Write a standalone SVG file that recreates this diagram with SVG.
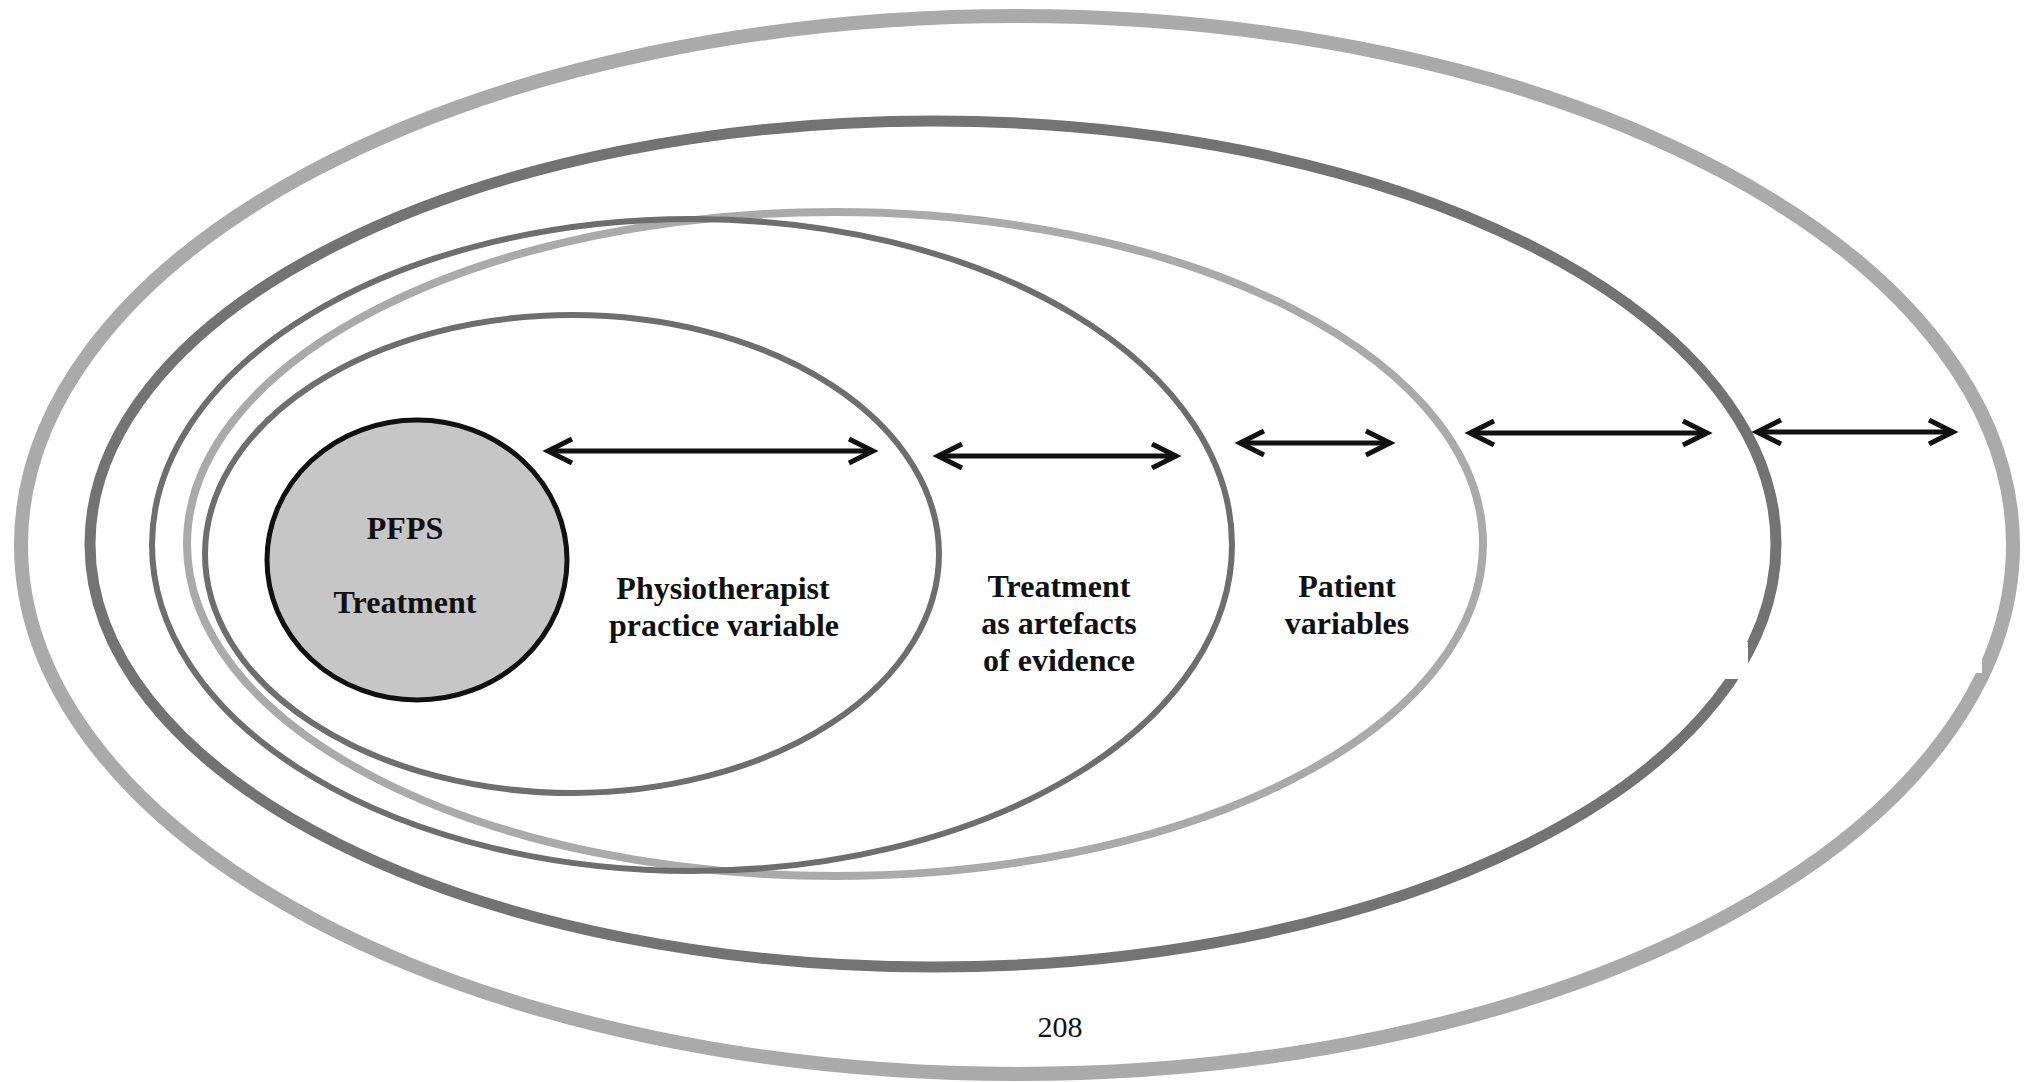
<svg xmlns="http://www.w3.org/2000/svg" width="2032" height="1082" viewBox="0 0 2032 1082">
  <style>
    .ring { fill: none; }
    .light { stroke: #aaaaaa; }
    .dark { stroke: #6e6e6e; }
    .label { font-family: "Liberation Serif", "Times New Roman", serif; font-weight: bold; font-size: 32px; fill: #111; text-anchor: middle; }
    .page { font-family: "Liberation Serif", "Times New Roman", serif; font-size: 30px; fill: #111; text-anchor: middle; }
    .arrow { stroke: #111; stroke-width: 5; fill: none; marker-start: url(#chev); marker-end: url(#chev); }
  </style>
  <defs>
    <marker id="chev" markerUnits="userSpaceOnUse" markerWidth="40" markerHeight="40" refX="0" refY="0" orient="auto-start-reverse" overflow="visible">
      <path d="M-24,-12 L0,0 L-24,12" fill="none" stroke="#111" stroke-width="5" stroke-linejoin="miter"/>
    </marker>
  </defs>

  <rect x="0" y="0" width="2032" height="1082" fill="#ffffff"/>

  <!-- outermost ring -->
  <g id="ring-outer">
    <ellipse class="ring light" cx="1017" cy="545" rx="996" ry="529" stroke-width="14"/>
  </g>

  <!-- second ring -->
  <g id="ring-second">
    <ellipse class="ring" stroke="#737373" cx="933" cy="544" rx="843" ry="423" stroke-width="11"/>
  </g>

  <!-- patient variables ring -->
  <g id="ring-patient">
    <ellipse class="ring light" cx="835" cy="544" rx="648" ry="332" stroke-width="8"/>
    <text class="label" x="1347" y="597">Patient</text>
    <text class="label" x="1347" y="634">variables</text>
  </g>

  <!-- treatment as artefacts ring -->
  <g id="ring-artefacts">
    <ellipse class="ring dark" cx="692" cy="545" rx="540" ry="326" stroke-width="6"/>
    <text class="label" x="1059" y="597">Treatment</text>
    <text class="label" x="1059" y="634">as artefacts</text>
    <text class="label" x="1059" y="671">of evidence</text>
  </g>

  <!-- physiotherapist practice ring -->
  <g id="ring-practice">
    <ellipse class="ring dark" cx="572" cy="554" rx="367" ry="239" stroke-width="6"/>
    <text class="label" x="723" y="599">Physiotherapist</text>
    <text class="label" x="724" y="636">practice variable</text>
  </g>

  <!-- small breaks in the right-hand rings -->
  <g id="ring-breaks" fill="#ffffff">
    <rect x="1700" y="642" width="48" height="37"/>
    <rect x="1968" y="656" width="14" height="17"/>
  </g>

  <!-- core -->
  <g id="core">
    <ellipse cx="417" cy="560" rx="150" ry="140" fill="#c6c6c6" stroke="#111" stroke-width="5"/>
    <text class="label" x="405" y="539">PFPS</text>
    <text class="label" x="405" y="613">Treatment</text>
  </g>

  <!-- double-headed arrows between rings -->
  <g id="connectors">
    <line class="arrow" x1="548" y1="451" x2="873" y2="451"/>
    <line class="arrow" x1="938" y1="456" x2="1176" y2="456"/>
    <line class="arrow" x1="1240" y1="443" x2="1390" y2="443"/>
    <line class="arrow" x1="1470" y1="433" x2="1707" y2="433"/>
    <line class="arrow" x1="1757" y1="432" x2="1953" y2="432"/>
  </g>

  <text class="page" x="1060" y="1037">208</text>
</svg>
